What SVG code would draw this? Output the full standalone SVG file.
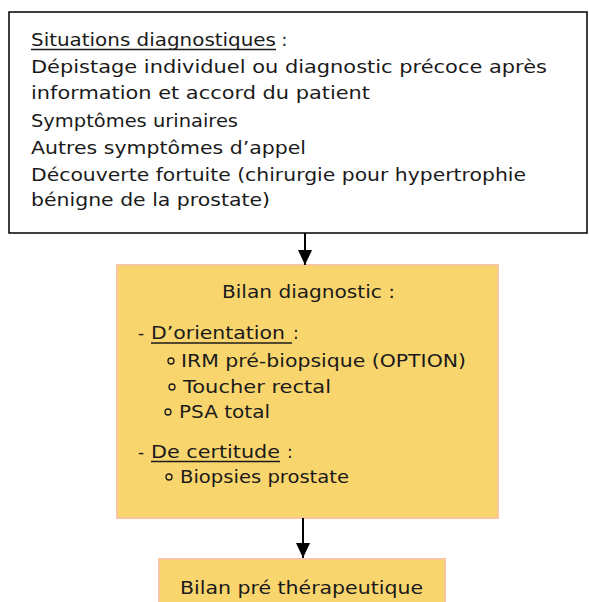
<svg xmlns="http://www.w3.org/2000/svg" width="589" height="602" viewBox="0 0 589 602">
<defs>
<style>
.t{font-family:"DejaVu Sans","Liberation Sans",sans-serif;font-size:17px;fill:#1a1a1a}
.ul{stroke:#1a1a1a;stroke-width:1.3}
.bul{fill:none;stroke:#1a1a1a;stroke-width:1.3}
.box{fill:#F9D56E;stroke:#F8C6A0;stroke-width:2}
.conn{stroke:#000;stroke-width:2;fill:none}
</style>
<marker id="ah" viewBox="0 0 15 14" refX="15" refY="7" markerWidth="15" markerHeight="14" markerUnits="userSpaceOnUse" orient="auto">
<path d="M0,0 L15,7 L0,14 Z" fill="#000"/>
</marker>
</defs>
<rect width="589" height="602" fill="#fff"/>
<g id="situations">
<rect x="9" y="12" width="578" height="221" fill="#fff" stroke="#000" stroke-width="1.5"/>
<text class="t" x="31" y="46"><tspan textLength="245" lengthAdjust="spacingAndGlyphs">Situations diagnostiques</tspan> :</text>
<line class="ul" x1="31" y1="49.5" x2="276" y2="49.5"/>
<text class="t" x="31" y="73" textLength="516" lengthAdjust="spacingAndGlyphs">Dépistage individuel ou diagnostic précoce après</text>
<text class="t" x="31" y="99" textLength="339" lengthAdjust="spacingAndGlyphs">information et accord du patient</text>
<text class="t" x="31" y="127" textLength="207" lengthAdjust="spacingAndGlyphs">Symptômes urinaires</text>
<text class="t" x="31" y="154" textLength="275" lengthAdjust="spacingAndGlyphs">Autres symptômes d’appel</text>
<text class="t" x="31" y="181" textLength="495" lengthAdjust="spacingAndGlyphs">Découverte fortuite (chirurgie pour hypertrophie</text>
<text class="t" x="31" y="206" textLength="239" lengthAdjust="spacingAndGlyphs">bénigne de la prostate)</text>
</g>
<g id="bilan-diagnostic">
<rect class="box" x="117" y="265" width="381" height="253"/>
<text class="t" x="222" y="298" textLength="173" lengthAdjust="spacingAndGlyphs">Bilan diagnostic :</text>
<text class="t" x="138" y="339">-</text>
<text class="t" x="151" y="339" textLength="134" lengthAdjust="spacingAndGlyphs">D’orientation</text>
<text class="t" x="293" y="339">:</text>
<line class="ul" x1="151" y1="343" x2="292" y2="343"/>
<circle class="bul" cx="171" cy="361" r="3"/>
<text class="t" x="181" y="367" textLength="285" lengthAdjust="spacingAndGlyphs">IRM pré-biopsique (OPTION)</text>
<circle class="bul" cx="172" cy="387" r="3"/>
<text class="t" x="183" y="393" textLength="148" lengthAdjust="spacingAndGlyphs">Toucher rectal</text>
<circle class="bul" cx="168" cy="412" r="3"/>
<text class="t" x="179" y="418" textLength="91" lengthAdjust="spacingAndGlyphs">PSA total</text>
<text class="t" x="138" y="458">-</text>
<text class="t" x="151" y="458" textLength="129" lengthAdjust="spacingAndGlyphs">De certitude</text>
<text class="t" x="287" y="458">:</text>
<line class="ul" x1="151" y1="461.5" x2="280" y2="461.5"/>
<circle class="bul" cx="169" cy="477" r="3"/>
<text class="t" x="180" y="483" textLength="169" lengthAdjust="spacingAndGlyphs">Biopsies prostate</text>
</g>
<g id="bilan-pre-therapeutique">
<rect class="box" x="159" y="559" width="286" height="60"/>
<text class="t" x="180" y="594" textLength="243" lengthAdjust="spacingAndGlyphs">Bilan pré thérapeutique</text>
</g>
<g id="connectors">
<line class="conn" x1="305" y1="233" x2="305" y2="265" marker-end="url(#ah)"/>
<line class="conn" x1="303" y1="518" x2="303" y2="558" marker-end="url(#ah)"/>
</g>
</svg>
